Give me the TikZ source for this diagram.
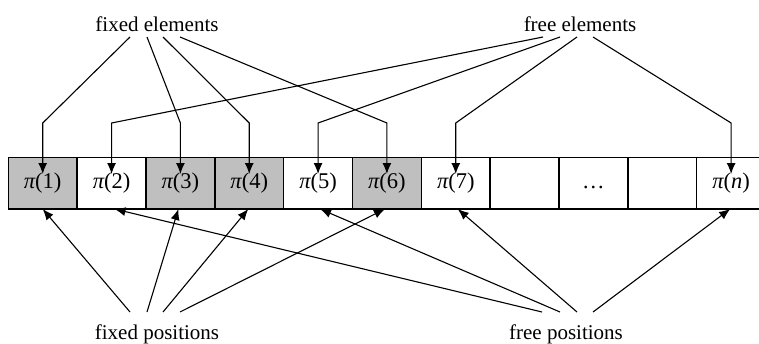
\documentclass[tikz,border=0pt]{standalone}
\usepackage{fontspec}
\setmainfont{Liberation Serif}
\usetikzlibrary{arrows.meta}
\begin{document}
\begin{tikzpicture}[x=1pt,y=-1pt,
  cell/.style={draw=black, line width=1.4pt, minimum width=68.84pt, minimum height=51.5pt,
    inner sep=0pt, outer sep=0pt, text height=15.5pt, text depth=5pt,
    font=\fontsize{22.5}{26}\selectfont},
  fixedcell/.style={cell, fill=gray!50},
  freecell/.style={cell, fill=white},
  lbl/.style={font=\fontsize{21}{24}\selectfont, inner sep=0pt, anchor=base},
  conn/.style={line width=1.1pt, -{Latex[length=11pt,width=9pt]}},
  ]
\useasboundingbox (0,0) rectangle (759,343);
\newcommand\pp[1]{{\itshape π}(#1)}
% cells
\node[fixedcell] (c1)  at (42.72,183.25)  {\pp{1}};
\node[freecell]  (c2)  at (111.56,183.25) {\pp{2}};
\node[fixedcell] (c3)  at (180.40,183.25) {\pp{3}};
\node[fixedcell] (c4)  at (249.24,183.25) {\pp{4}};
\node[freecell]  (c5)  at (318.08,183.25) {\pp{5}};
\node[fixedcell] (c6)  at (386.92,183.25) {\pp{6}};
\node[freecell]  (c7)  at (455.76,183.25) {\pp{7}};
\node[freecell]  (c8)  at (524.60,183.25) {};
\node[freecell]  (c9)  at (593.44,183.25) {\dots};
\node[freecell]  (c10) at (662.28,183.25) {};
\node[freecell]  (c11) at (731.12,183.25) {{\itshape π}(\textit{n})};
% labels
\node[lbl] (fe) at (157,31.5) {fixed elements};
\node[lbl] (re) at (580,31.5) {free elements};
\node[lbl] (fp) at (157,339) {fixed positions};
\node[lbl] (rp) at (566,339) {free positions};
% helper coordinates
\coordinate (bendy) at (0,123);
\coordinate (tipy) at (0,174);
\coordinate (fe1) at (130,37);
\coordinate (fe2) at (147,37);
\coordinate (fe3) at (163,37);
\coordinate (fe4) at (180,37);
\coordinate (re1) at (543,37);
\coordinate (re2) at (560,37);
\coordinate (re3) at (577,37);
\coordinate (re4) at (593,37);
\coordinate (fp1) at (130,312);
\coordinate (fp2) at (147,312);
\coordinate (fp3) at (163,312);
\coordinate (fp4) at (180,312);
\coordinate (rp1) at (542,312);
\coordinate (rp2) at (560,312);
\coordinate (rp3) at (577,312);
\coordinate (rp4) at (593,312);
% top connectors
\draw[conn] (fe1) -- (c1.center |- bendy) -- (c1.center |- tipy);
\draw[conn] (fe2) -- (c3.center |- bendy) -- (c3.center |- tipy);
\draw[conn] (fe3) -- (c4.center |- bendy) -- (c4.center |- tipy);
\draw[conn] (fe4) -- (c6.center |- bendy) -- (c6.center |- tipy);
\draw[conn] (re1) -- (c2.center |- bendy) -- (c2.center |- tipy);
\draw[conn] (re2) -- (c5.center |- bendy) -- (c5.center |- tipy);
\draw[conn] (re3) -- (c7.center |- bendy) -- (c7.center |- tipy);
\draw[conn] (re4) -- (c11.center |- bendy) -- (c11.center |- tipy);
% bottom connectors
\draw[conn] (fp1) -- (c1.south);
\draw[conn] (fp2) -- ([xshift=-2pt]c3.south);
\draw[conn] (fp3) -- ([xshift=-1pt]c4.south);
\draw[conn] (fp4) -- ([xshift=-2pt]c6.south);
\draw[conn] (rp1) -- ([xshift=3pt]c2.south);
\draw[conn] (rp2) -- ([xshift=2pt]c5.south);
\draw[conn] (rp3) -- ([xshift=2pt]c7.south);
\draw[conn] (rp4) -- ([xshift=-1pt]c11.south);
\end{tikzpicture}
\end{document}
